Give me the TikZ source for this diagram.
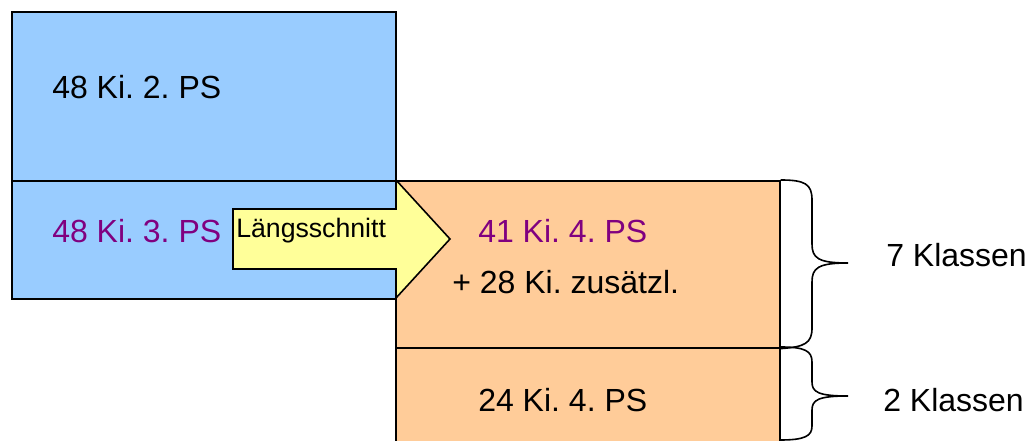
\documentclass[tikz,border=0pt]{standalone}
\usepackage{fontspec}
\setmainfont{Liberation Sans}
\frenchspacing
\definecolor{boxblue}{HTML}{99CCFF}
\definecolor{boxorange}{HTML}{FFCC99}
\definecolor{arrowyellow}{HTML}{FFFF99}
\definecolor{txtpurple}{HTML}{800080}
\begin{document}
\begin{tikzpicture}[x=0.75pt,y=-0.75pt,
  panel/.style={draw=black,line width=1.2pt,rectangle,inner sep=0pt,anchor=north west},
  lbl/.style={inner sep=0pt,anchor=base west,font=\fontsize{24pt}{28pt}\selectfont},
  brace/.style={draw=black,line width=1.2pt}]
\useasboundingbox (0,0) rectangle (1027,441);
\clip (0,0) rectangle (1027,441);
% blue boxes
\node[panel,fill=boxblue,minimum width=384*0.75pt,minimum height=169*0.75pt] (b1) at (11,11) {};
\node[panel,fill=boxblue,minimum width=384*0.75pt,minimum height=118*0.75pt] (b2) at (11,180) {};
% orange boxes
\node[panel,fill=boxorange,minimum width=384*0.75pt,minimum height=167*0.75pt] (o1) at (395,180) {};
\node[panel,fill=boxorange,minimum width=384*0.75pt,minimum height=120*0.75pt] (o2) at (395,347) {};
% arrow
\draw[line width=1.2pt,fill=arrowyellow,line join=miter]
  (233,209) -- (396,209) -- (396,180) -- (450,239) -- (396,298) -- (396,269) -- (233,269) -- cycle;
\node[inner sep=0pt,anchor=base west,font=\fontsize{20pt}{24pt}\selectfont] (arr) at (236,238) {Längsschnitt};
% texts
\node[lbl] (t1) at (52,99) {48 Ki. 2. PS};
\node[lbl,text=txtpurple] (t2) at (52,243) {48 Ki. 3. PS};
\node[lbl,text=txtpurple] (t3) at (478,243) {41 Ki. 4. PS};
\node[lbl] (t4) at (452,294) {+ 28 Ki. zusätzl.};
\node[lbl] (t5) at (478,411) {24 Ki. 4. PS};
\node[lbl] (k7) at (886,267) {7 Klassen};
\node[lbl] (k2) at (883,411) {2 Klassen};
% braces
\draw[brace] (o1.north east) .. controls (805,180) and (812,184) .. (812,200) -- (812,244)
  .. controls (812,258) and (818,263) .. (848,263)
  .. controls (818,263) and (812,268) .. (812,282) -- (812,328)
  .. controls (812,343) and (805,347) .. (o1.south east);
\draw[brace] (o2.north east) .. controls (805,347) and (812,351) .. (812,362) -- (812,382)
  .. controls (812,392) and (818,396) .. (848,396)
  .. controls (818,396) and (812,400) .. (812,410) -- (812,426)
  .. controls (812,436) and (805,440) .. (780,440);
\end{tikzpicture}
\end{document}
